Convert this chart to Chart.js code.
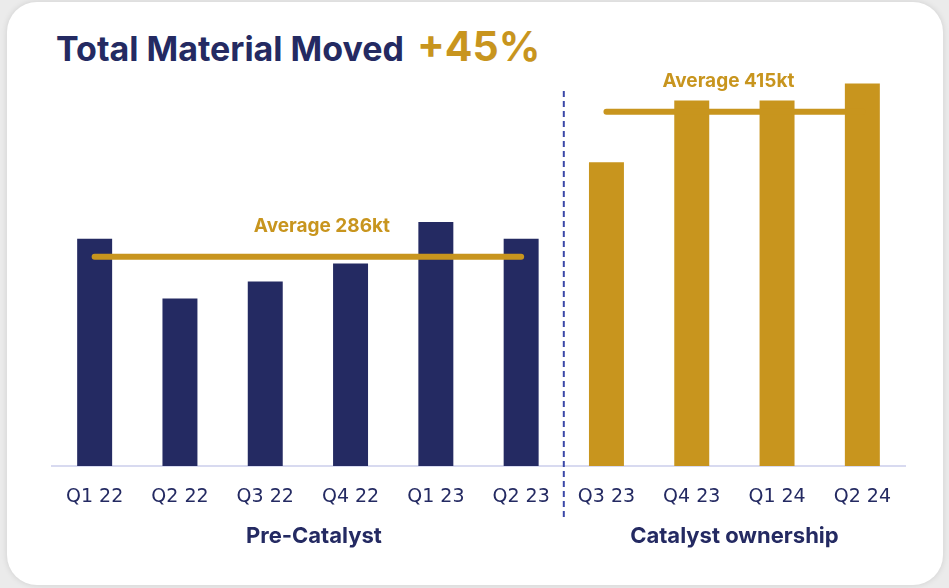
<!DOCTYPE html>
<html>
<head>
<meta charset="utf-8">
<script src="https://cdn.jsdelivr.net/npm/chart.js@4"></script>
<style>
  html, body { margin: 0; padding: 0; }
  body { width: 949px; height: 588px; background: #ebebeb; position: relative; overflow: hidden; font-family: Inter, sans-serif; }
  #card { position: absolute; left: 7px; top: 2px; width: 936px; height: 583px; background: #fff; border-radius: 30px; box-shadow: 0 0 6px rgba(0,0,0,0.12); }
  #title { position: absolute; left: 56px; top: 21px; white-space: nowrap; }
  #title .main { color: #242a62; font-weight: 700; font-size: 34px; }
  #title .pct { color: #c8951e; font-weight: 700; font-size: 41px; margin-left: 13px; }
  #chart-wrapper { position: absolute; left: 0; top: 0; width: 949px; height: 588px; }
</style>
</head>
<body>
<div id="card"></div>
<div id="title"><span class="main">Total Material Moved</span><span class="pct">+45%</span></div>
<div id="chart-wrapper"><canvas id="chart-bar-material" width="949" height="588"></canvas></div>
<script>
const quarters = ["Q1 22", "Q2 22", "Q3 22", "Q4 22", "Q1 23", "Q2 23", "Q3 23", "Q4 23", "Q1 24", "Q2 24"];
const materialMoved = [302, 249, 264, 280, 317, 302, 370, 425, 425, 440]; // kt
const groupOf = [0, 0, 0, 0, 0, 0, 1, 1, 1, 1];
const groupNames = ["Pre-Catalyst", "Catalyst ownership"];
const groupAverages = [286, 415];

const navy = "#242a62";
const gold = "#c8951e";

function averageLine(group) {
  return quarters.map((q, i) => (groupOf[i] == group ? groupAverages[group] : null));
}

const annotationsPlugin = {
  id: "annotations",
  afterDatasetsDraw(chart) {
    const ctx = chart.ctx;
    const x = chart.scales.x;
    const y = chart.scales.y;

    // dashed divider between the two groups
    const lastPre = groupOf.lastIndexOf(0);
    const divX = (x.getPixelForTick(lastPre) + x.getPixelForTick(lastPre + 1)) / 2;
    ctx.save();
    ctx.strokeStyle = "#3b48a8";
    ctx.lineWidth = 2;
    ctx.setLineDash([6, 4]);
    ctx.beginPath();
    ctx.moveTo(divX, 91);
    ctx.lineTo(divX, 520);
    ctx.stroke();
    ctx.restore();

    // average labels + group names
    ctx.save();
    ctx.textAlign = "center";
    ctx.textBaseline = "middle";
    groupNames.forEach((name, g) => {
      const first = groupOf.indexOf(g);
      const last = groupOf.lastIndexOf(g);
      const mid = (x.getPixelForTick(first) + x.getPixelForTick(last)) / 2;

      ctx.fillStyle = gold;
      ctx.font = "bold 19px Inter";
      const labelX = g == 0 ? mid + 14 : mid - 6;
      ctx.fillText(`Average ${groupAverages[g]}kt`, labelX, y.getPixelForValue(groupAverages[g]) - 30);

      ctx.fillStyle = navy;
      ctx.font = "bold 22px Inter";
      ctx.fillText(name, mid + (g == 0 ? 6 : 0), 536);
    });
    ctx.restore();
  },
};

new Chart(document.getElementById("chart-bar-material"), {
  type: "bar",
  data: {
    labels: quarters,
    datasets: [
      {
        label: "Total material moved",
        data: materialMoved,
        backgroundColor: groupOf.map((g) => (g == 0 ? navy : gold)),
        barPercentage: 0.41,
        categoryPercentage: 1,
        order: 2,
      },
      {
        type: "line",
        label: "Average pre",
        data: averageLine(0),
        borderColor: gold,
        borderWidth: 6,
        borderCapStyle: "round",
        pointRadius: 0,
        order: 1,
      },
      {
        type: "line",
        label: "Average post",
        data: averageLine(1),
        borderColor: gold,
        borderWidth: 6,
        borderCapStyle: "round",
        pointRadius: 0,
        order: 1,
      },
    ],
  },
  options: {
    responsive: false,
    animation: false,
    events: [],
    layout: { padding: { left: 52, right: 44, top: 61, bottom: 42 } },
    plugins: {
      legend: { display: false },
      tooltip: { enabled: false },
    },
    scales: {
      x: {
        grid: { display: false, drawTicks: false },
        border: { display: true, color: "#d8daf0", width: 2 },
        ticks: { color: navy, font: { family: "DejaVu Sans", size: 19 }, padding: 20, maxRotation: 0, autoSkip: false },
        afterFit: (scale) => { scale.height = 80; },
      },
      y: {
        display: false,
        min: 100,
        max: 460,
      },
    },
  },
  plugins: [annotationsPlugin],
});
</script>
</body>
</html>
